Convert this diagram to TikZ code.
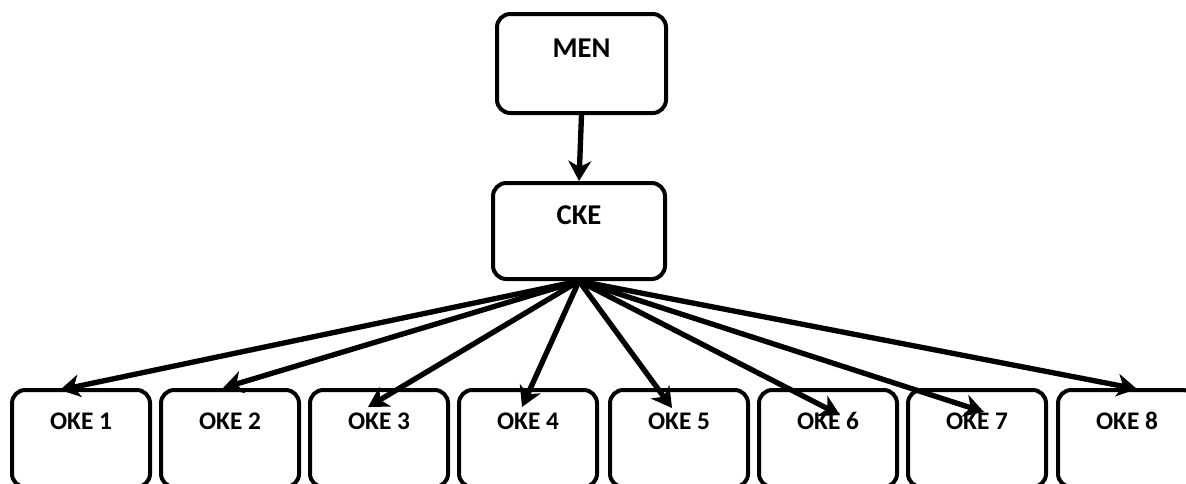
\documentclass[tikz,border=0pt]{standalone}
\usepackage{fontspec}
\setmainfont{Carlito}
\usetikzlibrary{arrows.meta}
\begin{document}
\begin{tikzpicture}[x=0.75pt,y=-0.75pt,
  box/.style={draw, line width=3pt, rounded corners=10pt, inner sep=0pt},
  okebox/.style={box, minimum width=103.5pt, minimum height=72.75pt},
  lbl/.style={font=\bfseries\fontsize{19}{22}\selectfont, inner sep=0pt},
  toplbl/.style={font=\bfseries\fontsize{21.5}{24}\selectfont, inner sep=0pt},
  conn/.style={line width=4pt, -{Stealth[length=15pt,width=17pt,inset=4.5pt]}}]
\clip (0,0) rectangle (1186,483);
\fill[white] (0,0) rectangle (1186,483);
% top boxes
\node[box, minimum width=126.75pt, minimum height=74.25pt] (men) at (581.5,63.5) {};
\node[toplbl] (mentext) at ([yshift=-27pt]men.north) {MEN};
\node[box, minimum width=129pt, minimum height=72pt] (cke) at (579,231) {};
\node[toplbl] (cketext) at ([yshift=-26pt]cke.north) {CKE};
% bottom boxes
\foreach \i/\x in {1/81,2/230,3/379,4/528,5/679,6/828,7/977,8/1127}{
  \node[okebox] (o\i) at (\x,438.5) {};
  \node[lbl] (t\i) at ([yshift=-25pt]o\i.north) {OKE \i};
}
% arrow ends
\coordinate (e1) at (60,390);
\coordinate (e2) at (223,388);
\coordinate (e3) at (368,407);
\coordinate (e4) at (522,407);
\coordinate (e5) at (672,408);
\coordinate (e6) at (840,415);
\coordinate (e7) at (984,412);
\coordinate (e8) at (1137,389);
% connectors
\draw[conn] (men.south) -- (cke.north);
\foreach \i in {1,...,8}{
  \draw[conn] (cke.south) -- (e\i);
}
\end{tikzpicture}
\end{document}
